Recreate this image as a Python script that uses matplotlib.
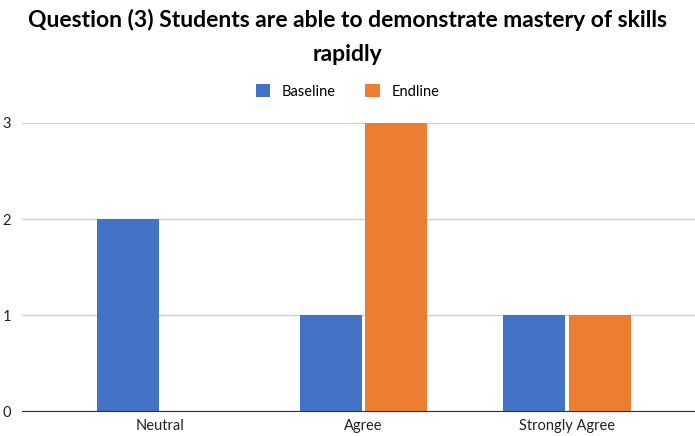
import numpy as np
import matplotlib.pyplot as plt

plt.rcParams['font.family'] = ['Lato', 'DejaVu Sans']

categories = ['Neutral', 'Agree', 'Strongly Agree']
baseline = [2, 1, 1]
endline = [0, 3, 1]

fig = plt.figure(figsize=(6.95, 4.36), dpi=100)
ax = fig.add_axes([0.032, 0.057, 0.968, 0.661])

x = np.arange(len(categories))
w = 0.305
ax.bar(x - w / 2 - 0.008, baseline, w, color='#4472C4', label='Baseline')
ax.bar(x + w / 2 + 0.008, endline, w, color='#ED7D31', label='Endline')

ax.set_xlim(-0.68, 2.63)
ax.set_ylim(0, 3)
ax.set_yticks([0, 1, 2, 3])
ax.set_xticks(x)
ax.set_xticklabels(categories)
ax.grid(axis='y', color='#D0D0D0', linewidth=1)
ax.set_axisbelow(True)
for s in ['top', 'right', 'left']:
    ax.spines[s].set_visible(False)
ax.spines['bottom'].set_color('#333333')
ax.tick_params(axis='both', length=0, labelsize=10.5, colors='#222222')
ax.tick_params(axis='y', pad=8)
ax.tick_params(axis='x', pad=6)

fig.text(0.5, 0.915, 'Question (3) Students are able to demonstrate mastery of skills\nrapidly',
         ha='center', va='center', fontsize=16.5, fontweight='bold', linespacing=1.75)
fig.legend(loc='center', bbox_to_anchor=(0.5, 0.79), ncol=2, frameon=False,
           fontsize=10.5, handlelength=1.0, handleheight=1.0, columnspacing=2.0)

fig.savefig('out.png', dpi=100)
